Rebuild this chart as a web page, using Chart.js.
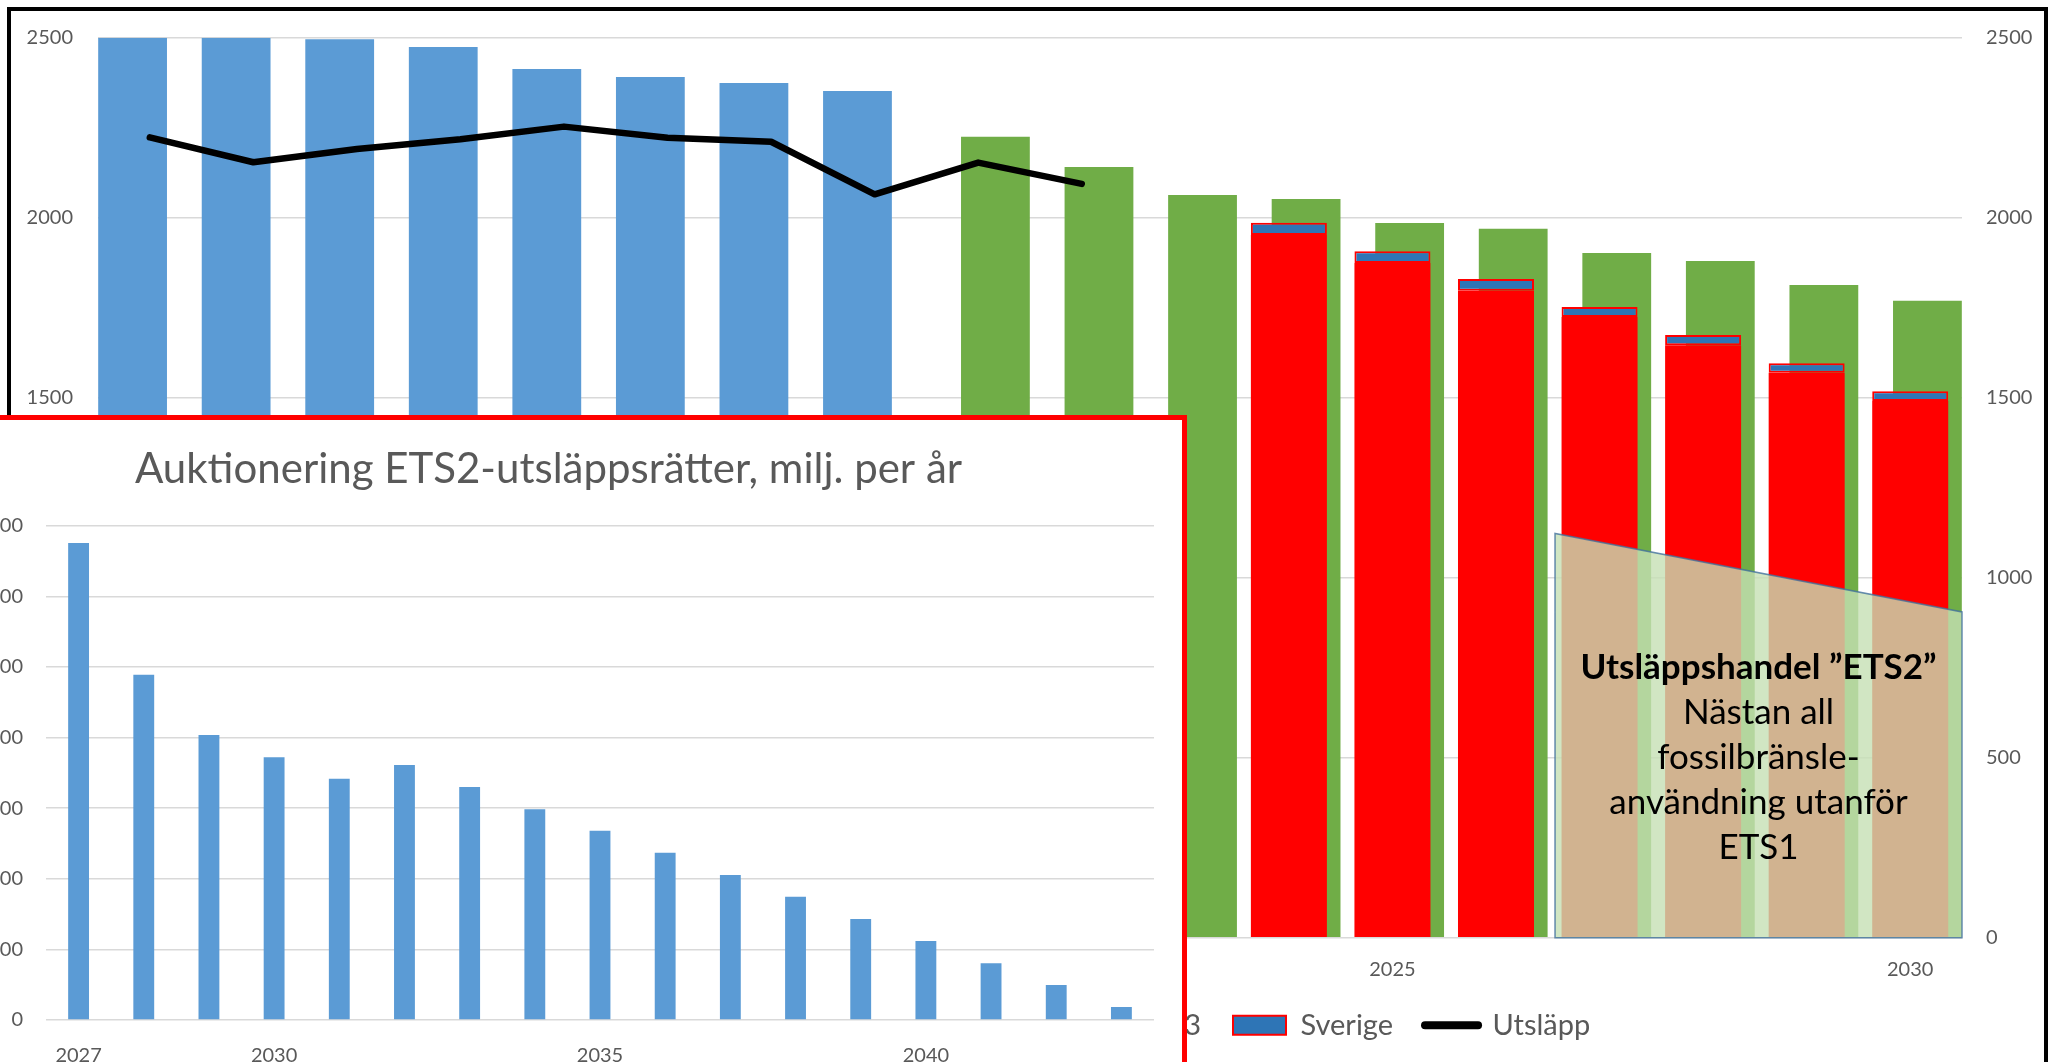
<!DOCTYPE html>
<html>
<head>
<meta charset="utf-8">
<script src="https://cdn.jsdelivr.net/npm/chart.js@4.4.1/dist/chart.umd.min.js"></script>
<style>
html, body { margin: 0; padding: 0; background: #fff; width: 2048px; height: 1062px; overflow: hidden; position: relative; }
#frame { position: absolute; left: 7px; top: 7px; width: 2041px; height: 1100px; border: 4px solid #000; box-sizing: border-box; }
#main { position: absolute; left: 0; top: 0; }
#inset { position: absolute; left: -100px; top: 415px; width: 1287px; height: 700px; border: 5px solid #f00; background: #fff; box-sizing: border-box; }
#inset canvas { position: absolute; left: 0; top: 0; }
</style>
</head>
<body>
<div id="frame"></div>
<canvas id="main" width="2048" height="1062"></canvas>
<div id="inset"><canvas id="auk" width="1277" height="680"></canvas></div>
<script>
// bakgrundsdiagram: tak och utsläpp, Mt
var years = ['2013','2014','2015','2016','2017','2018','2019','2020','2021','2022','2023','2024','2025','2026','2027','2028','2029','2030'];
var fas3 = [2500, 2500, 2496, 2474, 2413, 2391, 2374, 2352, null, null, null, null, null, null, null, null, null, null];
var fas4 = [null, null, null, null, null, null, null, null, 2225, 2141, 2063, 2052, 1985, 1969, 1902, 1880, 1813, 1769];
var ets2 = [null, null, null, null, null, null, null, null, null, null, null, 1952, 1874, 1797, 1724, 1646, 1569, 1491];
var sverige = [null, null, null, null, null, null, null, null, null, null, null, 34, 33, 33, 28, 28, 27, 27];
var utslapp = [2223, 2154, 2191, 2218, 2253, 2222, 2211, 2065, 2153, 2094, null, null, null, null, null, null, null, null];
var yTicks = [0, 500, 1000, 1500, 2000, 2500];

// infälld graf: auktionering ETS2
var aukYears = ['2027','2028','2029','2030','2031','2032','2033','2034','2035','2036','2037','2038','2039','2040','2041','2042','2043'];
var aukVolym = [1351, 978, 807, 744, 683, 722, 660, 597, 536, 474, 411, 349, 286, 224, 161, 99, 37];
var aukTicks = [0, 200, 400, 600, 800, 1000, 1200, 1400];

// textruta över staplarna
var ets2Area = { from: 13.57, to: 17.5, topLeft: 1123, topRight: 905 };
var ets2Text = ['Utsläppshandel \u201DETS2\u201D', 'Nästan all', 'fossilbränsle-', 'användning utanför', 'ETS1'];

var grey = '#595959';
var gridCol = '#d9d9d9';

var areaPlugin = {
    id: 'ets2area',
    afterDatasetsDraw: function(chart) {
        var x = chart.scales.x, y = chart.scales.y, ctx = chart.ctx;
        var x0 = x.getPixelForValue(ets2Area.from), x1 = x.getPixelForValue(ets2Area.to);
        ctx.save();
        ctx.beginPath();
        ctx.moveTo(x0, y.getPixelForValue(0));
        ctx.lineTo(x0, y.getPixelForValue(ets2Area.topLeft));
        ctx.lineTo(x1, y.getPixelForValue(ets2Area.topRight));
        ctx.lineTo(x1, y.getPixelForValue(0));
        ctx.closePath();
        ctx.fillStyle = 'rgba(197,224,180,0.8)';
        ctx.fill();
        ctx.strokeStyle = 'rgba(65,113,156,0.8)';
        ctx.lineWidth = 1.5;
        ctx.stroke();
        var cx = (x0 + x1) / 2;
        var cy = y.getPixelForValue(500);
        var lh = 45;
        ctx.fillStyle = '#000';
        ctx.textAlign = 'center';
        ctx.textBaseline = 'middle';
        ets2Text.forEach(function(t, i) {
            ctx.font = (i === 0 ? 'bold ' : '') + '35px Lato';
            ctx.fillText(t, cx, cy + (i - 2) * lh);
        });
        ctx.restore();
    }
};

function plain(v) { return String(v); }

new Chart(document.getElementById('main'), {
    type: 'bar',
    data: {
        labels: years,
        datasets: [
            { type: 'line', label: 'Utsläpp', data: utslapp, borderColor: '#000', backgroundColor: '#000', borderWidth: 6.5, pointRadius: 0, borderCapStyle: 'round', borderJoinStyle: 'round', tension: 0, order: 0 },
            { label: 'ETS2 EU-27', data: ets2, backgroundColor: '#ff0000', stack: 'c', grouped: false, categoryPercentage: 1, barPercentage: 0.734, order: 1 },
            { label: 'Sverige', data: sverige, backgroundColor: '#2e75b6', borderColor: '#ff0000', borderWidth: 2, borderSkipped: false, stack: 'c', grouped: false, categoryPercentage: 1, barPercentage: 0.734, order: 1 },
            { label: 'ETS1 fas 3', data: fas3, backgroundColor: '#5b9bd5', stack: 'a', categoryPercentage: 0.6643, barPercentage: 2.0, order: 2 },
            { label: 'Tak ETS1 fas 4', data: fas4, backgroundColor: '#70ad47', stack: 'b', categoryPercentage: 0.6643, barPercentage: 2.0, order: 2 }
        ]
    },
    options: {
        responsive: false,
        animation: false,
        layout: { padding: { left: 0, right: 0, top: 37.7, bottom: 12.3 } },
        scales: {
            x: {
                offset: true,
                grid: { display: false },
                border: { display: false },
                afterFit: function(s) { s.height = 41; },
                ticks: {
                    autoSkip: false, maxRotation: 0, padding: 12, color: grey,
                    font: { family: 'Lato', size: 20 },
                    callback: function(v, i) { return Number(years[i]) % 5 === 0 ? years[i] : ''; }
                }
            },
            y: {
                min: 0, max: 2500,
                afterFit: function(s) { s.width = 98; },
                afterBuildTicks: function(s) { s.ticks = yTicks.map(function(v) { return { value: v }; }); },
                grid: { color: gridCol, lineWidth: 1.5, drawTicks: false },
                border: { display: false },
                ticks: { padding: 25, color: grey, font: { family: 'Lato', size: 20 }, callback: plain }
            },
            y2: {
                position: 'right', min: 0, max: 2500,
                afterFit: function(s) { s.width = 86; },
                afterBuildTicks: function(s) { s.ticks = yTicks.map(function(v) { return { value: v }; }); },
                grid: { display: false, drawTicks: false },
                border: { display: false },
                ticks: { padding: 24, color: grey, font: { family: 'Lato', size: 20 }, callback: plain }
            }
        },
        plugins: {
            tooltip: { enabled: false },
            legend: {
                position: 'bottom',
                labels: {
                    usePointStyle: true, pointStyleWidth: 53, boxHeight: 19, padding: 32,
                    color: grey, font: { family: 'Lato', size: 29 },
                    generateLabels: function(chart) {
                        var ds = chart.data.datasets;
                        return [
                            { text: ds[4].label, fillStyle: '#70ad47', strokeStyle: '#70ad47', lineWidth: 0, pointStyle: 'rect', fontColor: grey },
                            { text: ds[1].label, fillStyle: '#ff0000', strokeStyle: '#ff0000', lineWidth: 0, pointStyle: 'rect', fontColor: grey },
                            { text: ds[3].label, fillStyle: '#5b9bd5', strokeStyle: '#5b9bd5', lineWidth: 0, pointStyle: 'rect', fontColor: grey },
                            { text: ds[2].label, fillStyle: '#2e75b6', strokeStyle: '#ff0000', lineWidth: 2, pointStyle: 'rect', fontColor: grey },
                            { text: ds[0].label, fillStyle: '#000', strokeStyle: '#000', lineWidth: 8, lineCap: 'round', pointStyle: 'line', fontColor: grey }
                        ];
                    }
                }
            }
        }
    },
    plugins: [areaPlugin]
});

new Chart(document.getElementById('auk'), {
    type: 'bar',
    data: {
        labels: aukYears,
        datasets: [
            { label: 'Auktionering', data: aukVolym, backgroundColor: '#5b9bd5', categoryPercentage: 1, barPercentage: 0.32 }
        ]
    },
    options: {
        responsive: false,
        animation: false,
        layout: { padding: { left: 38, right: 28, top: 0, bottom: 0 } },
        scales: {
            x: {
                grid: { display: false },
                border: { display: false },
                afterFit: function(s) { s.height = 80; },
                ticks: {
                    autoSkip: false, maxRotation: 0, padding: 16, color: grey,
                    font: { family: 'Lato', size: 20 },
                    callback: function(v, i) { var yr = Number(aukYears[i]); return (i === 0 || yr % 5 === 0) ? aukYears[i] : ''; }
                }
            },
            y: {
                min: 0, max: 1400,
                afterFit: function(s) { s.width = 103; },
                afterBuildTicks: function(s) { s.ticks = aukTicks.map(function(v) { return { value: v }; }); },
                grid: { color: gridCol, lineWidth: 1.5, drawTicks: false },
                border: { display: false },
                ticks: { padding: 23, color: grey, font: { family: 'Lato', size: 20 }, callback: plain }
            }
        },
        plugins: {
            tooltip: { enabled: false },
            legend: { display: false },
            title: {
                display: true,
                text: 'Auktionering ETS2-utsläppsrätter, milj. per år',
                color: grey,
                font: { family: 'Lato', size: 42, weight: 'normal' },
                padding: { top: 23.8, bottom: 31.5 }
            }
        }
    }
});
</script>
</body>
</html>
